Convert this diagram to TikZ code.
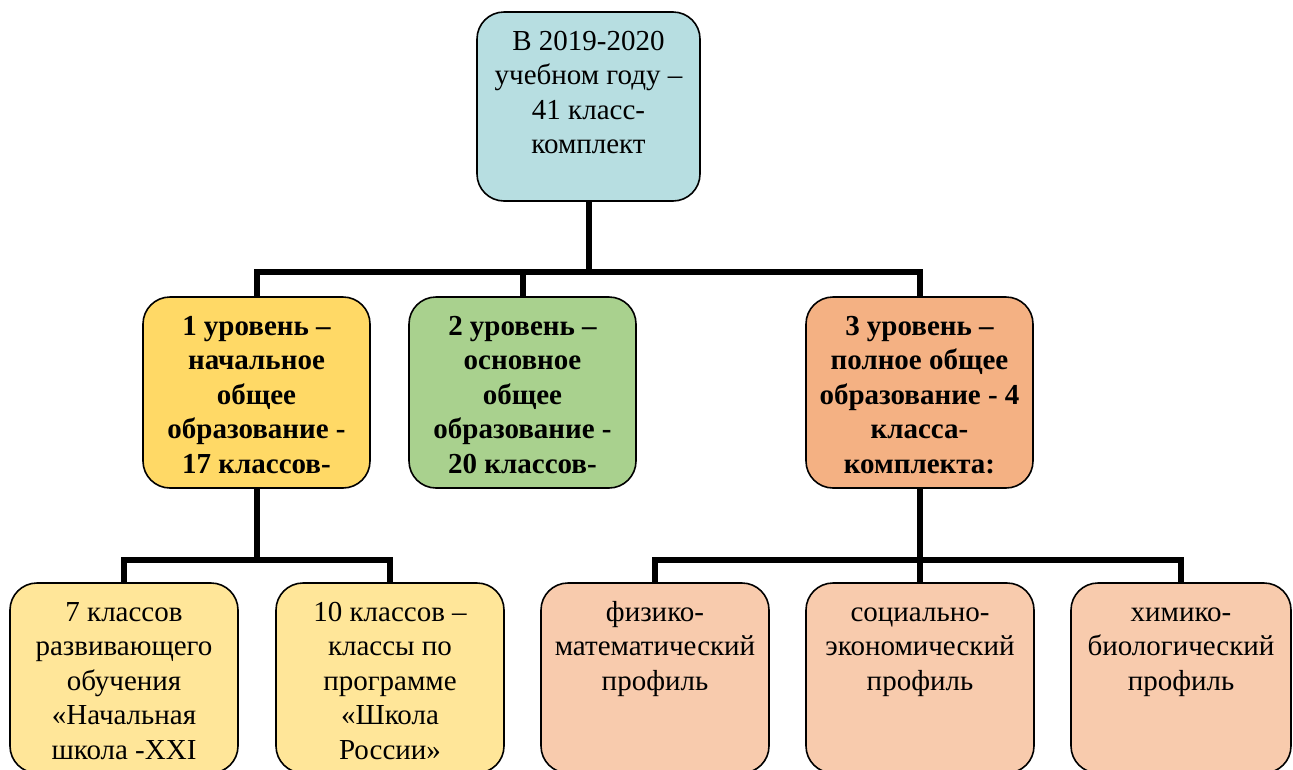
\documentclass[tikz,border=0pt]{standalone}
\usepackage{fontspec}
\setmainfont{Liberation Serif}
\definecolor{blue1}{RGB}{183,222,225}
\definecolor{yel1}{RGB}{255,217,102}
\definecolor{green1}{RGB}{169,209,142}
\definecolor{orange1}{RGB}{244,177,131}
\definecolor{yel2}{RGB}{255,230,153}
\definecolor{orange2}{RGB}{248,203,173}
\newcommand{\boxtext}[3]{\parbox[c][#1pt][t]{#2pt}{\centering\rule{0pt}{38pt}#3}}
\tikzset{
	box/.style={draw,line width=1.6pt,rounded corners=27pt,inner sep=0pt,
		font=\fontsize{29}{34.5}\selectfont},
	conn/.style={line width=6pt}
}
\begin{document}
	\begin{tikzpicture}[x=1pt,y=-1pt]
		\useasboundingbox (0,0) rectangle (1293,769);
		\node[box,fill=blue1] (top) at (588.5,106.5) {\boxtext{189}{223}{В 2019-2020\\учебном году –\\41 класс-\\комплект}};
		\node[box,fill=yel1] (l1) at (256.5,392.5) {\boxtext{191}{227}{\bfseries 1 уровень –\\начальное\\общее\\образование -\\17 классов-}};
		\node[box,fill=green1] (l2) at (522.5,392.5) {\boxtext{191}{227}{\bfseries 2 уровень –\\основное\\общее\\образование -\\20 классов-}};
		\node[box,fill=orange1] (l3) at (919.5,392.5) {\boxtext{191}{227}{\bfseries 3 уровень –\\полное общее\\образование - 4\\класса-\\комплекта:}};
		\node[box,fill=yel2] (b1) at (124,678) {\boxtext{190}{228}{7 классов\\развивающего\\обучения\\«Начальная\\школа -XXI}};
		\node[box,fill=yel2] (b2) at (390,678) {\boxtext{190}{228}{10 классов –\\классы по\\программе\\«Школа\\России»}};
		\node[box,fill=orange2] (p1) at (655,678) {\boxtext{190}{228}{физико-\\математический\\профиль}};
		\node[box,fill=orange2] (p2) at (920,678) {\boxtext{190}{228}{социально-\\экономический\\профиль}};
		\node[box,fill=orange2] (p3) at (1181,678) {\boxtext{190}{220}{химико-\\биологический\\профиль}};
		% connectors
		\coordinate (j1) at (588.5,272);
		\coordinate (j2) at (256.5,560);
		\coordinate (j3) at (919.5,560);
		\draw[conn] (top) -- (j1);
		\draw[conn] (l1) |- (j1) -| (l3);
		\draw[conn] (l2) -- (l2 |- j1);
		\draw[conn] (l1) -- (j2);
		\draw[conn] (b1) |- (j2) -| (b2);
		\draw[conn] (l3) -- (j3);
		\draw[conn] (p1) |- (j3) -| (p3);
		\draw[conn] (p2) -- (p2 |- j3);
	\end{tikzpicture}
\end{document}
